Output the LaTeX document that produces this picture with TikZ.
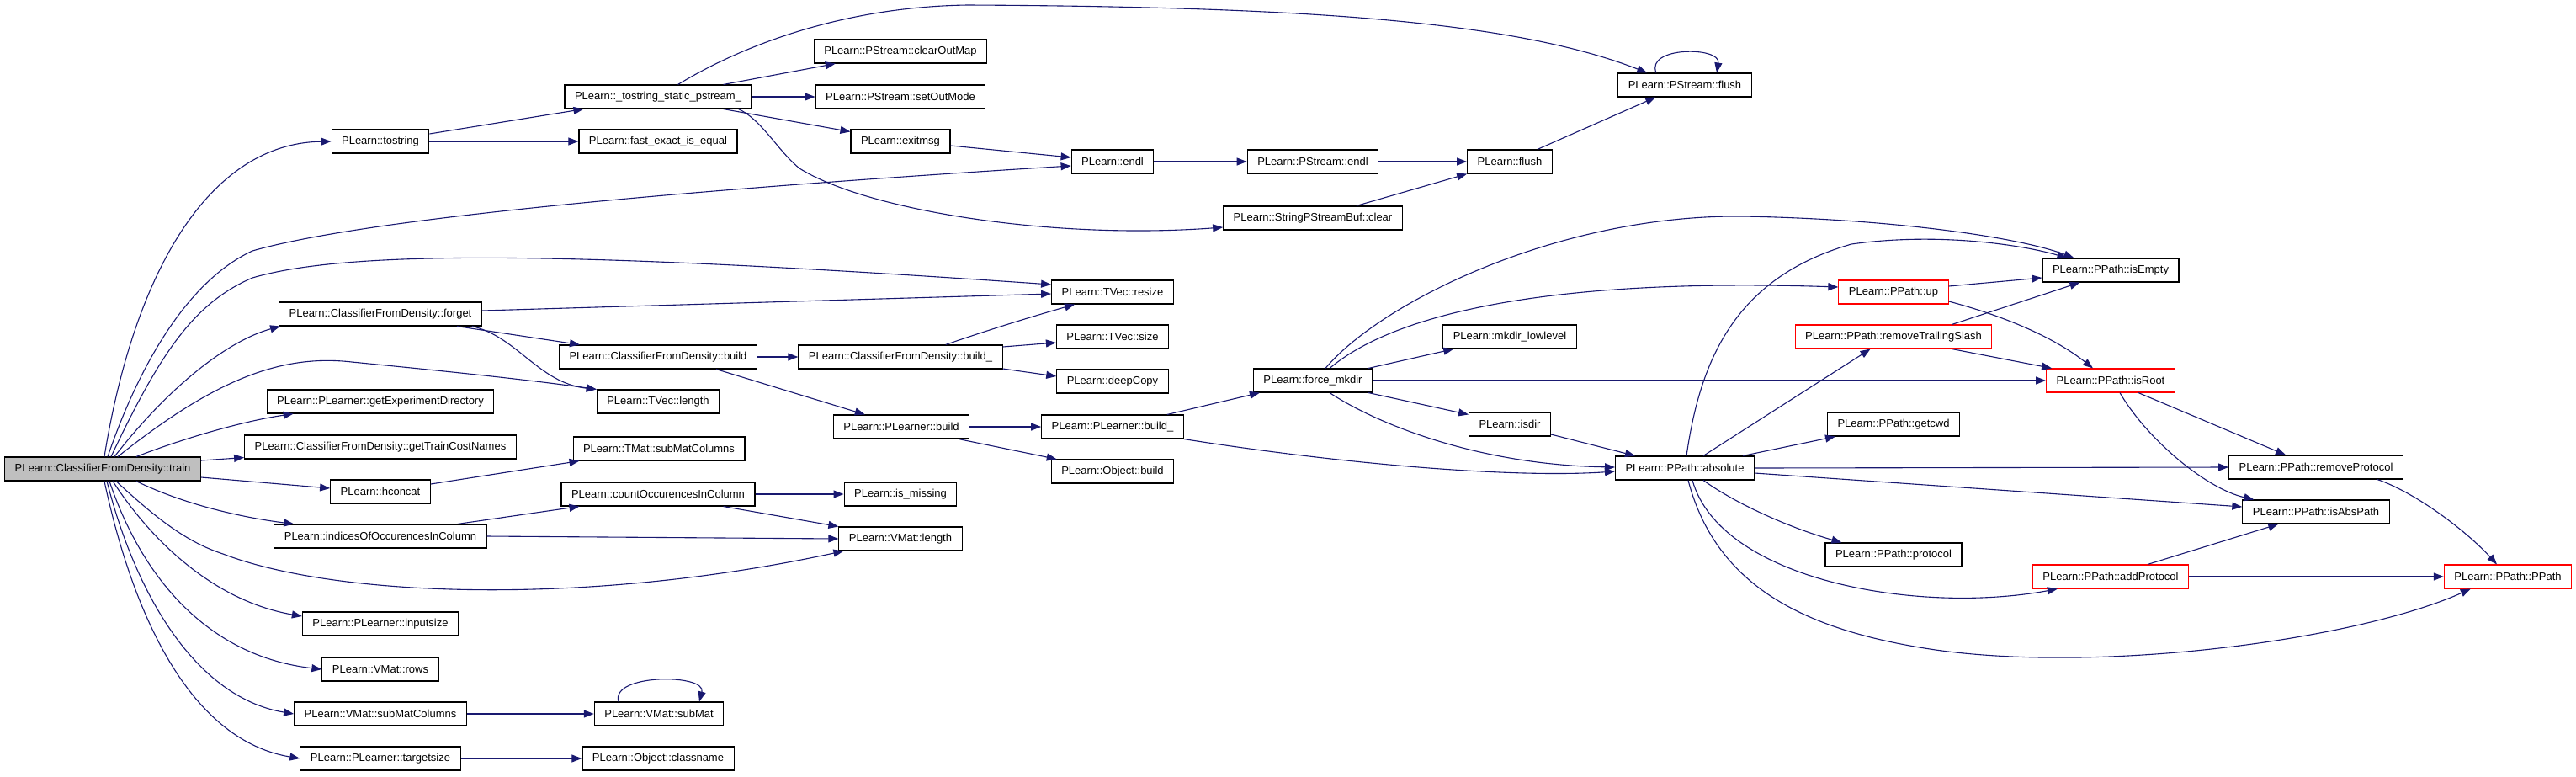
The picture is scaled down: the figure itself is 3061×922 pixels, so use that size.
\documentclass[tikz,border=0pt]{standalone}
\usepackage{fontspec}
\setmainfont{Liberation Sans}
\usetikzlibrary{arrows.meta}
\definecolor{edgecol}{HTML}{191970}
\definecolor{rootfill}{HTML}{BFBFBF}
\tikzset{
  fn/.style={draw=black, line width=0.55pt, fill=white, font=\fontsize{6.5}{7}\selectfont, inner xsep=6pt, inner ysep=0pt, minimum height=14pt},
  fnred/.style={fn, draw=red},
  fnroot/.style={fn, fill=rootfill},
  call/.style={draw=edgecol, line width=0.55pt, -{Triangle[length=6pt,width=4.5pt]}}
}
\begin{document}
\begin{tikzpicture}[x=0.5pt, y=-0.5pt]
\useasboundingbox (0,0) rectangle (3061,922);
\node[fnroot] (train) at (122,557){PLearn::ClassifierFromDensity::train};
\node[fn] (tostr) at (452,168){PLearn::tostring};
\draw[call]([xshift=1pt]train.north) .. controls (160,320) and (250,170) .. (tostr.west);
\node[fn] (tss) at (782,115){PLearn::\_tostring\_static\_pstream\_};
\node[fn] (fei) at (782,168){PLearn::fast\_exact\_is\_equal};
\draw[call]([yshift=4.5pt]tostr.east) -- ([xshift=11.5pt]tss.south west);
\draw[call](tostr) -- (fei);
\node[fn] (com) at (1070,61){PLearn::PStream::clearOutMap};
\node[fn] (som) at (1070,115){PLearn::PStream::setOutMode};
\node[fn] (exitmsg) at (1070,168){PLearn::exitmsg};
\draw[call]([xshift=-17pt]tss.north east) -- ([xshift=13pt]com.south west);
\draw[call](tss) -- (som);
\draw[call]([xshift=-17pt]tss.south east) -- ([yshift=-1.5pt]exitmsg.north west);
\node[fn] (endl) at (1322,192){PLearn::endl};
\node[fn] (psendl) at (1560,192){PLearn::PStream::endl};
\node[fn] (flush) at (1794,192){PLearn::flush};
\node[fn] (psflush) at (2002,101){PLearn::PStream::flush};
\node[fn] (sclear) at (1560,259){PLearn::StringPStreamBuf::clear};
\draw[call]([yshift=-2.5pt]exitmsg.east) -- ([yshift=2.5pt]endl.west);
\draw[call](endl) -- (psendl);
\draw[call](psendl) -- (flush);
\draw[call]([xshift=-27.5pt]sclear.north east) -- (flush.south west);
\draw[call]([xshift=-9pt]flush.north east) -- ([xshift=22.5pt]psflush.south west);
\draw[call]([xshift=-17pt]psflush.north) .. controls (1955,55) and (2045,55) .. ([xshift=19pt]psflush.north);
\draw[call]([xshift=-44pt]tss.north east) .. controls (880,55) and (1000,8) .. (1150,6) .. controls (1550,8) and (1800,25) .. ([xshift=17.5pt]psflush.north west);
\draw[call]([xshift=-8pt]tss.south east) .. controls (905,142) and (925,180) .. (950,200) .. controls (1030,250) and (1250,285) .. ([yshift=-5.5pt]sclear.west);
\draw[call]([xshift=3pt]train.north) .. controls (170,420) and (230,330) .. (300,298) .. controls (450,255) and (900,220) .. ([yshift=-2.5pt]endl.west);
\node[fn] (forget) at (452,373){PLearn::ClassifierFromDensity::forget};
\node[fn] (resize) at (1322,347){PLearn::TVec::resize};
\node[fn] (cbuild) at (782,424){PLearn::ClassifierFromDensity::build};
\node[fn] (tlen) at (782,477){PLearn::TVec::length};
\draw[call]([xshift=7pt]train.north) .. controls (200,460) and (270,405) .. ([xshift=1pt]forget.south west);
\draw[call]([yshift=2pt]forget.east) -- ([yshift=-1pt]resize.west);
\draw[call]([xshift=-15pt]forget.south east) -- ([xshift=12.5pt]cbuild.north west);
\draw[call]([xshift=-6pt]forget.south east) .. controls (615,400) and (640,455) .. (tlen.north west);
\draw[call]([xshift=5pt]train.north) .. controls (190,420) and (230,360) .. (300,330) .. controls (420,295) and (700,300) .. ([yshift=4.5pt]resize.west);
\draw[call]([xshift=9pt]train.north) .. controls (250,455) and (330,420) .. (418,430) .. controls (520,440) and (620,450) .. (tlen.north west);
\node[fn] (cbuildu) at (1070,424){PLearn::ClassifierFromDensity::build\_};
\node[fn] (vsize) at (1322,400){PLearn::TVec::size};
\node[fn] (deepcopy) at (1322,453){PLearn::deepCopy};
\draw[call](cbuild) -- (cbuildu);
\draw[call]([xshift=-34pt]cbuildu.north east) .. controls (1180,390) and (1230,375) .. ([xshift=14pt]resize.south west);
\draw[call]([yshift=6pt]cbuildu.east) -- ([yshift=-3.5pt]vsize.west);
\draw[call]([yshift=-7pt]cbuildu.east) -- ([yshift=3pt]deepcopy.west);
\node[fn] (plbuild) at (1071,507){PLearn::PLearner::build};
\node[fn] (plbuildu) at (1322,507){PLearn::PLearner::build\_};
\node[fn] (objbuild) at (1322,560){PLearn::Object::build};
\draw[call]([xshift=-24.5pt]cbuild.south east) -- ([xshift=19pt]plbuild.north west);
\draw[call](plbuild) -- (plbuildu);
\draw[call]([xshift=-6.5pt]plbuild.south east) -- ([xshift=3.5pt]objbuild.north west);
\node[fn] (fmk) at (1560,452){PLearn::force\_mkdir};
\node[fn] (absolute) at (2002,556){PLearn::PPath::absolute};
\draw[call]([xshift=-10pt]plbuildu.north east) -- ([xshift=4pt]fmk.south west);
\draw[call](plbuildu.south east) .. controls (1600,552) and (1800,568) .. ([yshift=-2pt]absolute.west);
\node[fn] (mkl) at (1794,400){PLearn::mkdir\_lowlevel};
\node[fn] (isdir) at (1794,504){PLearn::isdir};
\node[fnred] (up) at (2250,347){PLearn::PPath::up};
\node[fnred] (rts) at (2250,400){PLearn::PPath::removeTrailingSlash};
\node[fn] (isempty) at (2508,321){PLearn::PPath::isEmpty};
\node[fnred] (isroot) at (2508,452){PLearn::PPath::isRoot};
\node[fn] (getcwd) at (2250,504){PLearn::PPath::getcwd};
\node[fn] (protocol) at (2250,659){PLearn::PPath::protocol};
\node[fn] (rproto) at (2752,555){PLearn::PPath::removeProtocol};
\node[fn] (isabs) at (2752,608){PLearn::PPath::isAbsPath};
\node[fnred] (addproto) at (2508,685){PLearn::PPath::addProtocol};
\node[fnred] (ppath) at (2980,685){PLearn::PPath::PPath};
\draw[call]([xshift=7.5pt]fmk.north) .. controls (1640,360) and (1850,255) .. (2070,257) .. controls (2250,260) and (2400,282) .. ([xshift=19pt]isempty.north west);
\draw[call]([xshift=10pt]fmk.north) .. controls (1660,370) and (1850,330) .. ([yshift=3pt]up.west);
\draw[call]([xshift=-2.5pt]fmk.north east) -- ([xshift=6.5pt]mkl.south west);
\draw[call](fmk) -- (isroot);
\draw[call]([xshift=-2.5pt]fmk.south east) -- ([yshift=-1.5pt]isdir.north west);
\draw[call]([xshift=10pt]fmk.south) .. controls (1630,500) and (1750,552) .. ([yshift=0.5pt]absolute.west);
\draw[call]([yshift=-6pt]isdir.east) -- ([xshift=12pt]absolute.north west);
\draw[call]([xshift=1pt]absolute.north) .. controls (2020,430) and (2060,330) .. (2200,290) .. controls (2300,276) and (2400,290) .. ([xshift=15pt]isempty.north west);
\draw[call]([xshift=11pt]absolute.north) -- ([xshift=45pt]rts.south west);
\draw[call]([xshift=-7pt]absolute.north east) -- ([xshift=5pt]getcwd.south west);
\draw[call](absolute.east) -- (rproto.west);
\draw[call]([yshift=-3pt]absolute.east) -- ([yshift=3pt]isabs.west);
\draw[call]([xshift=11pt]absolute.south) .. controls (2065,600) and (2130,628) .. ([xshift=10pt]protocol.north west);
\draw[call]([xshift=4.5pt]absolute.south) .. controls (2045,690) and (2280,730) .. ([xshift=15pt]addproto.south west);
\draw[call]([xshift=2pt]absolute.south) .. controls (2040,700) and (2150,750) .. (2300,772) .. controls (2500,800) and (2800,760) .. ([xshift=16pt]ppath.south west);
\draw[call]([yshift=3.5pt]up.east) -- ([yshift=-4.5pt]isempty.west);
\draw[call]([yshift=-5.5pt]up.east) .. controls (2380,375) and (2440,400) .. ([xshift=-10.5pt]isroot.north);
\draw[call]([xshift=-24pt]rts.north east) -- ([xshift=22.5pt]isempty.south west);
\draw[call]([xshift=-24pt]rts.south east) -- ([xshift=3.5pt]isroot.north west);
\draw[call]([xshift=16.5pt]isroot.south) -- ([xshift=34pt]rproto.north west);
\draw[call]([xshift=5.5pt]isroot.south) .. controls (2550,520) and (2620,580) .. ([xshift=7pt]isabs.north west);
\draw[call]([xshift=-15.5pt]rproto.south east) .. controls (2870,585) and (2930,630) .. ([xshift=-6.5pt]ppath.north);
\draw[call]([xshift=22pt]addproto.north) -- ([xshift=21.5pt]isabs.south west);
\draw[call](addproto) -- (ppath);
\node[fn] (ged) at (452,477){PLearn::PLearner::getExperimentDirectory};
\node[fn] (gtc) at (452,531){PLearn::ClassifierFromDensity::getTrainCostNames};
\node[fn] (hconcat) at (452,584){PLearn::hconcat};
\node[fn] (tmat) at (783,533){PLearn::TMat::subMatColumns};
\draw[call]([xshift=20pt]train.north) .. controls (220,520) and (290,500) .. ([xshift=16pt]ged.south west);
\draw[call]([yshift=5pt]train.east) -- ([yshift=1pt]gtc.south west);
\draw[call]([yshift=-5pt]train.east) -- ([yshift=2pt]hconcat.west);
\draw[call]([yshift=4.5pt]hconcat.east) -- ([xshift=4pt]tmat.south west);
\node[fn] (indices) at (452,637){PLearn::indicesOfOccurencesInColumn};
\node[fn] (count) at (782,587){PLearn::countOccurencesInColumn};
\node[fn] (ismiss) at (1070,587){PLearn::is\_missing};
\node[fn] (vlen) at (1070,640){PLearn::VMat::length};
\draw[call]([xshift=20pt]train.south) .. controls (220,600) and (290,615) .. ([xshift=12pt]indices.north west);
\draw[call]([xshift=-17.5pt]indices.north east) -- ([xshift=11pt]count.south west);
\draw[call](indices.east) -- (vlen.west);
\draw[call](count) -- (ismiss);
\draw[call]([xshift=-19pt]count.south east) -- (vlen.north west);
\draw[call]([xshift=8pt]train.south) .. controls (190,620) and (225,645) .. (265,658) .. controls (400,710) and (700,720) .. ([xshift=3pt]vlen.south west);
\node[fn] (inputsize) at (452,741){PLearn::PLearner::inputsize};
\node[fn] (vrows) at (452,795){PLearn::VMat::rows};
\node[fn] (smc) at (452,848){PLearn::VMat::subMatColumns};
\node[fn] (submat) at (783,848){PLearn::VMat::subMat};
\node[fn] (tsize) at (452,901){PLearn::PLearner::targetsize};
\node[fn] (classname) at (782,901){PLearn::Object::classname};
\draw[call]([xshift=6pt]train.south) .. controls (185,650) and (260,715) .. ([yshift=4.5pt]inputsize.west);
\draw[call]([xshift=4pt]train.south) .. controls (170,690) and (250,780) .. (vrows.west);
\draw[call]([xshift=2.5pt]train.south) .. controls (165,720) and (240,830) .. (smc.west);
\draw[call]([xshift=1pt]train.south) .. controls (160,740) and (230,880) .. (tsize.west);
\draw[call](smc) -- (submat);
\draw[call]([xshift=-24pt]submat.north) .. controls (725,800) and (840,800) .. ([xshift=24pt]submat.north);
\draw[call](tsize) -- (classname);
\end{tikzpicture}
\end{document}
